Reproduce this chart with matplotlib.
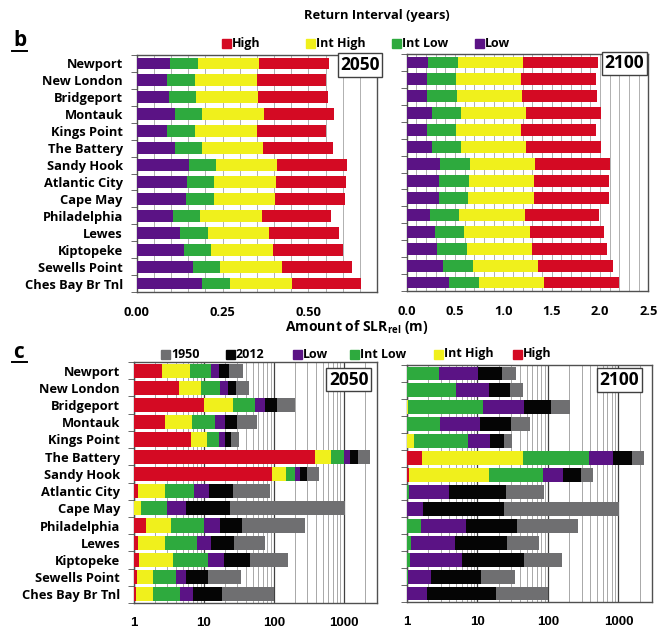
import numpy as np
import matplotlib
matplotlib.use('Agg')
import matplotlib.pyplot as plt
from matplotlib.patches import Rectangle
from matplotlib.ticker import FixedLocator, NullFormatter, MultipleLocator

plt.rcParams['font.family'] = ['Open Sans', 'DejaVu Sans']
plt.rcParams['font.weight'] = 'bold'
plt.rcParams['mathtext.fontset'] = 'custom'
plt.rcParams['mathtext.bf'] = 'Open Sans:bold'
plt.rcParams['mathtext.rm'] = 'Open Sans:bold'

stations = ['Newport', 'New London', 'Bridgeport', 'Montauk', 'Kings Point',
            'The Battery', 'Sandy Hook', 'Atlantic City', 'Cape May',
            'Philadelphia', 'Lewes', 'Kiptopeke', 'Sewells Point', 'Ches Bay Br Tnl']

# amount of relative SLR (m) per scenario
slr_2050_low = [0.098, 0.089, 0.093, 0.112, 0.089, 0.111, 0.152, 0.147, 0.144, 0.105, 0.127, 0.137, 0.163, 0.191]
slr_2050_intlow = [0.178, 0.170, 0.173, 0.191, 0.170, 0.191, 0.232, 0.226, 0.224, 0.185, 0.207, 0.217, 0.244, 0.272]
slr_2050_inthigh = [0.357, 0.349, 0.352, 0.370, 0.349, 0.369, 0.410, 0.406, 0.402, 0.364, 0.386, 0.396, 0.422, 0.451]
slr_2050_high = [0.561, 0.552, 0.556, 0.574, 0.552, 0.573, 0.614, 0.609, 0.607, 0.567, 0.590, 0.600, 0.626, 0.654]

slr_2100_low = [0.224, 0.207, 0.214, 0.259, 0.207, 0.259, 0.345, 0.338, 0.331, 0.241, 0.293, 0.317, 0.379, 0.441]
slr_2100_intlow = [0.531, 0.510, 0.521, 0.562, 0.510, 0.562, 0.652, 0.641, 0.638, 0.545, 0.597, 0.621, 0.683, 0.745]
slr_2100_inthigh = [1.207, 1.186, 1.197, 1.238, 1.186, 1.238, 1.331, 1.317, 1.314, 1.221, 1.272, 1.297, 1.355, 1.417]
slr_2100_high = [1.979, 1.962, 1.969, 2.010, 1.962, 2.010, 2.103, 2.093, 2.090, 1.993, 2.045, 2.069, 2.131, 2.193]

# return interval (years); 1.0 means below the axis
ri_2050_1950 = [36.3, 44.7, 202, 57.6, 31.8, 2361, 447, 88.6, 1057, 282, 75.9, 160, 34.3, 100]
ri_2050_2012 = [22.9, 29.1, 111.6, 30.1, 24.1, 1625, 301, 25.8, 23.9, 35.5, 26.7, 45.2, 11.3, 18.1]
ri_2050_low = [16.6, 21.9, 75.9, 19.8, 19.8, 1247, 236, 11.7, 5.58, 17.2, 12.7, 19.2, 5.52, 6.95]
ri_2050_intlow = [12.7, 17.0, 54.6, 14.4, 16.6, 1011, 200, 7.3, 2.94, 9.9, 7.85, 11.5, 3.96, 4.52]
ri_2050_inthigh = [6.4, 9.2, 25.8, 6.8, 11.2, 651, 152, 2.75, 1.26, 3.43, 2.82, 3.59, 1.89, 1.89]
ri_2050_high = [2.5, 4.4, 10.0, 2.8, 6.6, 383, 95.7, 1.14, 1.0, 1.47, 1.15, 1.19, 1.09, 1.06]

ri_2100_1950 = [35.6, 44.8, 203, 56.2, 31.3, 2307, 433, 87.8, 1022, 269, 74.6, 156, 33.8, 100]
ri_2100_2012 = [22.6, 28.7, 110, 29.6, 23.8, 1561, 293, 25.5, 24.1, 36.0, 26.3, 45.3, 11.4, 18.4]
ri_2100_low = [10.3, 14.8, 45.8, 10.7, 14.9, 850, 165, 4.01, 1.68, 6.91, 4.73, 6.0, 2.19, 1.92]
ri_2100_intlow = [2.84, 4.94, 12.0, 2.93, 7.3, 384, 85.9, 1.08, 1.0, 1.56, 1.14, 1.11, 1.03, 1.0]
ri_2100_inthigh = [1.0, 1.0, 1.04, 1.0, 1.24, 44.8, 14.5, 1.0, 1.0, 1.0, 1.0, 1.0, 1.0, 1.0]
ri_2100_high = [1.0, 1.0, 1.0, 1.0, 1.0, 1.65, 1.06, 1.0, 1.0, 1.0, 1.0, 1.0, 1.0, 1.0]

c_red = '#d40a23'
c_yellow = '#f0f01c'
c_green = '#2eaa3e'
c_purple = '#5b1385'
c_black = '#050505'
c_gray = '#6f6f71'
spine_col = '#505050'

W, H = 658, 629
fig = plt.figure(figsize=(W / 100, H / 100), dpi=100)


def px_axes(left, top, right, bottom):
    return fig.add_axes([left / W, 1 - bottom / H, (right - left) / W, (bottom - top) / H])


def style_axes(ax, labels):
    n = len(stations)
    y = np.arange(n)
    ax.set_ylim(n - 0.5, -0.5)
    ax.set_yticks(y)
    if labels:
        ax.set_yticklabels(stations, fontsize=9.3, fontweight='bold')
    else:
        ax.set_yticklabels([])
    ax.yaxis.set_minor_locator(FixedLocator(np.arange(-0.5, n, 1.0)))
    ax.tick_params(axis='y', which='major', length=0, pad=10)
    ax.tick_params(axis='y', which='minor', length=4, color=spine_col, direction='out')
    ax.tick_params(axis='x', which='both', length=0, labelsize=9.3)
    for s in ax.spines.values():
        s.set_color(spine_col)
        s.set_linewidth(1.0)
    ax.set_axisbelow(True)
    for lab in ax.get_xticklabels():
        lab.set_fontweight('bold')


def year_box(ax, x, y, txt):
    ax.text(x, y, txt, transform=ax.transAxes, ha='center', va='center',
            fontsize=12.5, fontweight='bold', clip_on=False, zorder=10,
            bbox=dict(boxstyle='square,pad=0.15', fc='white', ec='#404040', lw=1.0))


# ---- panel b: amount of SLR ----
def slr_panel(ax, low, intlow, inthigh, high, xmax, grid_step):
    y = np.arange(len(stations))
    h = 0.7
    for vals, col in [(high, c_red), (inthigh, c_yellow), (intlow, c_green), (low, c_purple)]:
        ax.barh(y, vals, height=h, color=col, zorder=3)
    ax.set_xlim(0, xmax)
    ax.xaxis.set_minor_locator(MultipleLocator(grid_step))
    ax.grid(axis='x', which='both', color='#b0b0b0', lw=0.7)


ax1 = px_axes(136.7, 55, 377, 292)
slr_panel(ax1, slr_2050_low, slr_2050_intlow, slr_2050_inthigh, slr_2050_high, 0.70, 0.05)
ax1.set_xticks([0.0, 0.25, 0.5])
ax1.set_xticklabels(['0.00', '0.25', '0.50'])
style_axes(ax1, True)
ax1.tick_params(axis='x', pad=10)
year_box(ax1, 0.929, 0.958, '2050')

ax2 = px_axes(406.7, 54, 648.3, 291)
slr_panel(ax2, slr_2100_low, slr_2100_intlow, slr_2100_inthigh, slr_2100_high, 2.5, 0.1)
ax2.set_xticks([0.0, 0.5, 1.0, 1.5, 2.0, 2.5])
ax2.set_xticklabels(['0.0', '0.5', '1.0', '1.5', '2.0', '2.5'])
style_axes(ax2, False)
ax2.tick_params(axis='x', pad=10)
year_box(ax2, 0.9, 0.96, '2100')


# ---- panel c: return interval ----
def ri_panel(ax, r1950, r2012, low, intlow, inthigh, high):
    y = np.arange(len(stations))
    h = 0.82
    for vals, col in [(r1950, c_gray), (r2012, c_black), (low, c_purple),
                      (intlow, c_green), (inthigh, c_yellow), (high, c_red)]:
        v = np.array(vals, dtype=float)
        ax.barh(y, v - 1, left=1, height=h, color=col, zorder=3)
    ax.set_xscale('log')
    ax.set_xlim(1, 3000)
    ax.set_xticks([1, 10, 100, 1000])
    ax.set_xticklabels(['1', '10', '100', '1000'], family='Liberation Sans')
    ax.xaxis.set_minor_formatter(NullFormatter())
    ax.grid(axis='x', which='minor', color='#a8a8a8', lw=0.7)
    ax.grid(axis='x', which='major', color='#404040', lw=0.9)


ax3 = px_axes(134, 362, 377, 603)
ri_panel(ax3, ri_2050_1950, ri_2050_2012, ri_2050_low, ri_2050_intlow, ri_2050_inthigh, ri_2050_high)
style_axes(ax3, True)
ax3.tick_params(axis='x', pad=10, labelsize=9.5)
year_box(ax3, 0.883, 0.927, '2050')

ax4 = px_axes(407, 365, 652, 602)
ri_panel(ax4, ri_2100_1950, ri_2100_2012, ri_2100_low, ri_2100_intlow, ri_2100_inthigh, ri_2100_high)
style_axes(ax4, False)
ax4.tick_params(axis='x', pad=10, labelsize=9.5)
year_box(ax4, 0.867, 0.937, '2100')


# ---- legends and titles (figure pixel positions) ----
def legend_item(x, y, col, txt):
    fig.patches.append(Rectangle((x / W, 1 - (y + 4.5) / H), 9 / W, 9 / H,
                                 transform=fig.transFigure, color=col))
    fig.text((x + 10) / W, 1 - y / H, txt, ha='left', va='center',
             fontsize=9, fontweight='bold')


for x, col, txt in [(222, c_red, 'High'), (306, c_yellow, 'Int High'),
                    (392, c_green, 'Int Low'), (475, c_purple, 'Low')]:
    legend_item(x, 43.5, col, txt)

for x, col, txt in [(161, c_gray, '1950'), (226, c_black, '2012'), (293, c_purple, 'Low'),
                    (350, c_green, 'Int Low'), (434, c_yellow, 'Int High'), (513, c_red, 'High')]:
    legend_item(x, 354, col, txt)

fig.text(377 / W, 1 - 15 / H, 'Return Interval (years)', ha='center', va='center',
         fontsize=9.3, fontweight='bold')
fig.text(357 / W, 1 - 327 / H, r'Amount of SLR$_{\mathbf{rel}}$ (m)', ha='center', va='center',
         fontsize=10, fontweight='bold')

tb = fig.text(20 / W, 1 - 41 / H, 'b', ha='center', va='center', fontsize=15, fontweight='bold')
tc = fig.text(18 / W, 1 - 353 / H, 'c', ha='center', va='center', fontsize=15, fontweight='bold')
for yy in [50.5, 362]:
    fig.add_artist(plt.Line2D([12 / W, 27 / W], [1 - yy / H, 1 - yy / H], color='black', lw=1.4))

fig.savefig('out.png', dpi=100)
